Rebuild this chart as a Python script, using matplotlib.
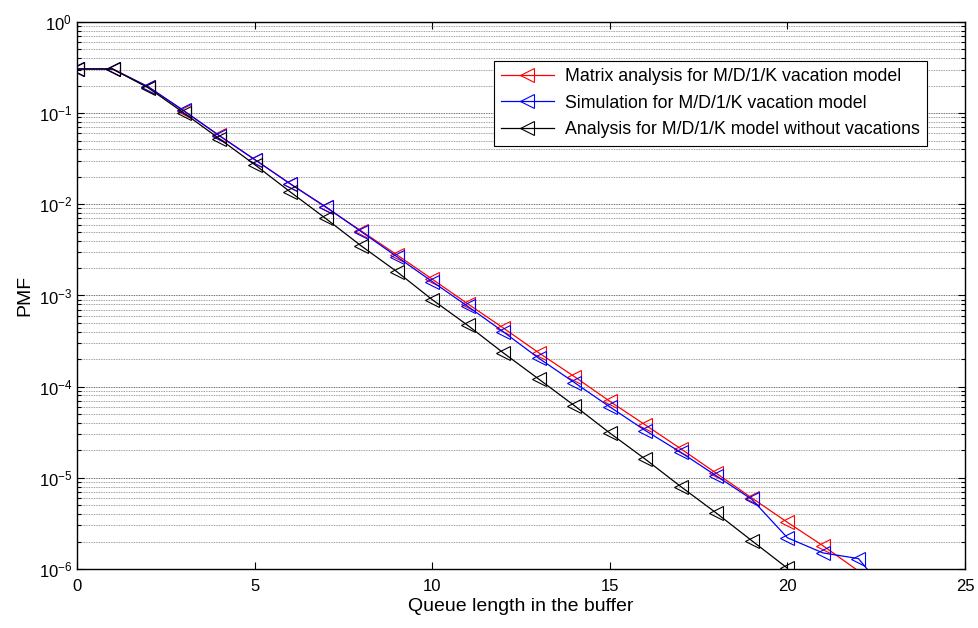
import matplotlib
matplotlib.use('Agg')
import matplotlib.pyplot as plt
from matplotlib.ticker import LogLocator, NullFormatter, MultipleLocator

plt.rcParams['font.family'] = ['Liberation Sans', 'DejaVu Sans']
plt.rcParams['mathtext.fontset'] = 'custom'
plt.rcParams['mathtext.rm'] = 'Liberation Sans'
plt.rcParams['mathtext.it'] = 'Liberation Sans:italic'

# values
x_matrix = list(range(0, 23))
pmf_matrix = [0.305, 0.305, 0.195, 0.106, 0.057, 0.031, 0.0168, 0.0093, 0.0051,
              0.0028, 0.00151, 8.1e-4, 4.4e-4, 2.35e-4, 1.29e-4, 6.9e-5, 3.8e-5,
              2.08e-5, 1.12e-5, 6.0e-6, 3.25e-6, 1.8e-6, 9.5e-7]
x_sim = list(range(0, 24))
pmf_sim = [0.305, 0.305, 0.195, 0.107, 0.0567, 0.031, 0.0168, 0.0094, 0.00502,
           0.00267, 0.00142, 7.6e-4, 4.0e-4, 2.05e-4, 1.11e-4, 6.0e-5, 3.3e-5,
           1.9e-5, 1.05e-5, 5.8e-6, 2.2e-6, 1.5e-6, 1.3e-6, 4.4e-7]
x_novac = list(range(0, 21))
pmf_novac = [0.305, 0.305, 0.19, 0.101, 0.0526, 0.0273, 0.0137, 0.007, 0.0035,
             0.00183, 9.0e-4, 4.7e-4, 2.35e-4, 1.21e-4, 6.2e-5, 3.1e-5, 1.6e-5,
             8.0e-6, 4.1e-6, 2.04e-6, 1.02e-6]

labels = ['Matrix analysis for M/D/1/K vacation model',
          'Simulation for M/D/1/K vacation model',
          'Analysis for M/D/1/K model without vacations']

fig = plt.figure(figsize=(9.79, 6.28), dpi=100)
ax = fig.add_axes([0.0787, 0.094, 0.9070, 0.871])

ymin = 1e-6
def visible(ys):
    # markers below the axis are not drawn, like in the original
    return [i for i, v in enumerate(ys) if v >= ymin]

style = dict(marker='<', markersize=9.5, mfc='none', mew=0.8, lw=0.9)
ax.plot(x_matrix, pmf_matrix, color='red', label=labels[0],
        markevery=visible(pmf_matrix), **style)
ax.plot(x_sim, pmf_sim, color='blue', label=labels[1],
        markevery=visible(pmf_sim), **style)
ax.plot(x_novac, pmf_novac, color='black', label=labels[2],
        markevery=visible(pmf_novac), **style)

ax.set_yscale('log')
ax.set_xlim(0, 25)
ax.set_ylim(1e-6, 1)
ax.xaxis.set_major_locator(MultipleLocator(5))
ax.yaxis.set_major_locator(LogLocator(base=10, numticks=10))
ax.yaxis.set_minor_locator(LogLocator(base=10, subs=range(2, 10), numticks=10))
ax.yaxis.set_minor_formatter(NullFormatter())

ax.tick_params(which='both', direction='in', top=True, right=True, labelsize=12)
ax.tick_params(which='major', length=5, width=0.8)
ax.tick_params(which='minor', length=3, width=0.8)
ax.tick_params(axis='x', pad=7)

ax.grid(True, axis='y', which='major', color='0.25', ls=(0, (1, 1)), lw=0.6)
ax.grid(True, axis='y', which='minor', color='0.5', ls=(0, (1, 1)), lw=0.6)
ax.set_axisbelow(True)
for s in ax.spines.values():
    s.set_linewidth(1.0)

ax.set_xlabel('Queue length in the buffer', fontsize=14, labelpad=3)
ax.set_ylabel('PMF', fontsize=14)

leg = ax.legend(loc='upper right', bbox_to_anchor=(0.957, 0.929), borderaxespad=0,
                fontsize=12.8, fancybox=False, edgecolor='black', framealpha=1,
                handlelength=3.0, labelspacing=0.55, borderpad=0.4, handletextpad=0.6)
leg.get_frame().set_linewidth(0.8)

fig.savefig('out.png', dpi=100)
